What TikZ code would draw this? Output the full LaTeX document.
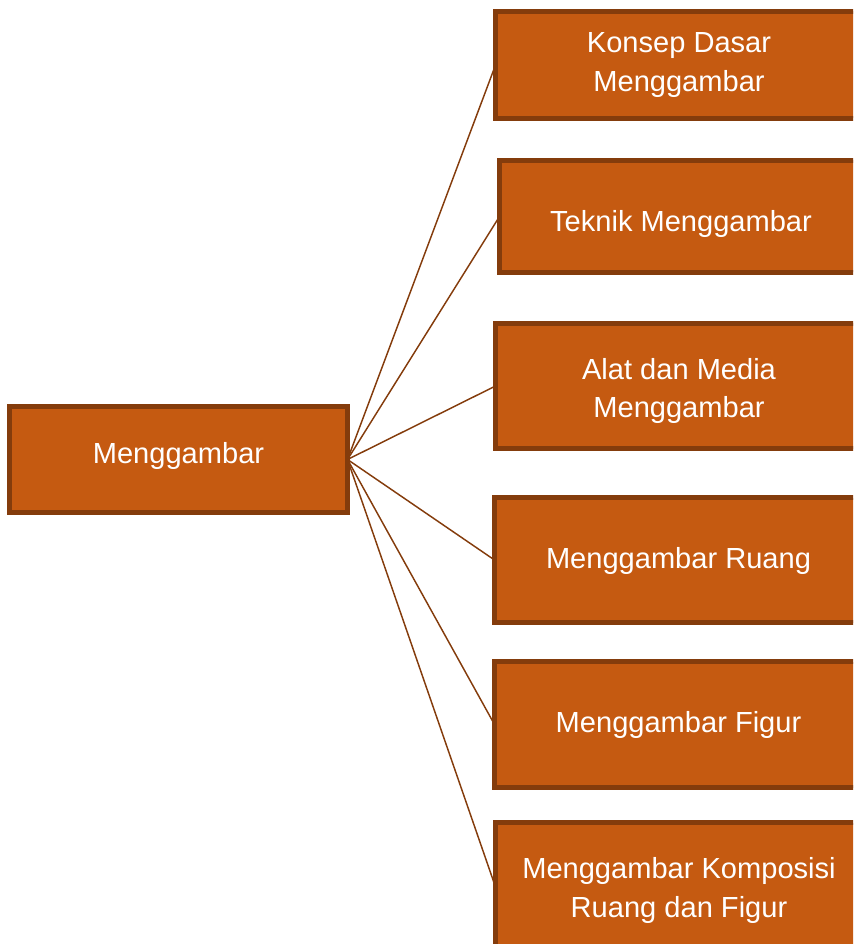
\documentclass[tikz,border=0pt]{standalone}
\usepackage{fontspec}
\setmainfont{Liberation Sans}
\definecolor{boxfill}{HTML}{C55A11}
\definecolor{boxline}{HTML}{843C0C}
\newcommand{\nudge}[2]{\raisebox{#1}[\height][\depth]{\begin{tabular}{@{}c@{}}#2\end{tabular}}}

\begin{document}
\begin{tikzpicture}
[
x=0.75pt,y=-0.75pt,
topic/.style 2 args={draw=boxline,fill=boxfill,line width=3.75pt,rectangle,
            minimum width=#1*0.75pt,minimum height=#2*0.75pt,inner sep=0pt,outer sep=0pt,
            text=white,align=center,font=\fontsize{21.8}{29}\selectfont},
branch/.style={draw=boxline,line width=1.1pt},
]
\useasboundingbox (0,0) rectangle (853,944);
\clip (0,0) rectangle (853,944);

%Place the nodes
\node[topic={338}{106}] (main) at (178.5,459.5) {\nudge{3pt}{Menggambar}};
\node[topic={367}{107}] (konsep) at (679,65) {\nudge{0.5pt}{Konsep Dasar\\Menggambar}};
\node[topic={363}{112}] (teknik) at (681,216.5) {\nudge{-5.25pt}{Teknik Menggambar}};
\node[topic={367}{125}] (alat) at (679,386) {\nudge{-3.5pt}{Alat dan Media\\Menggambar}};
\node[topic={368}{125}] (ruang) at (678.5,560) {\nudge{-0.5pt}{Menggambar Ruang}};
\node[topic={368}{126}] (figur) at (678.5,724.5) {\nudge{-0.5pt}{Menggambar Figur}};
\node[topic={367}{129}] (kompos) at (679,887) {\nudge{-2.5pt}{Menggambar Komposisi\\Ruang dan Figur}};

%Draw the connections
\draw[branch] (main.east) -- (konsep.west);
\draw[branch] (main.east) -- (teknik.west);
\draw[branch] (main.east) -- (alat.west);
\draw[branch] (main.east) -- (ruang.west);
\draw[branch] (main.east) -- (figur.west);
\draw[branch] (main.east) -- (kompos.west);
\end{tikzpicture}
\end{document}
